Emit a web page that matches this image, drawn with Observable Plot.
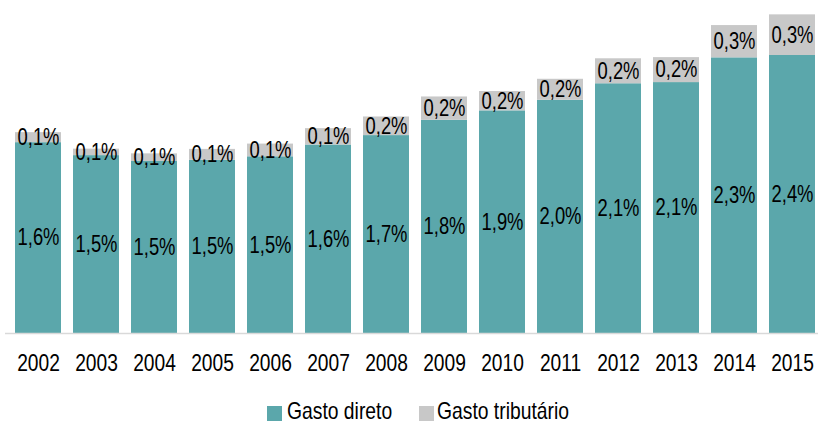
<!DOCTYPE html>
<html>
<head>
<meta charset="utf-8">
<script src="https://cdn.jsdelivr.net/npm/d3@7"></script>
<script src="https://cdn.jsdelivr.net/npm/@observablehq/plot@0.6"></script>
<style>
  body { margin: 0; background: #fff; }
  #wrap { width: 818px; height: 424px; font-family: "Liberation Sans", Arial, sans-serif; }
  #wrap svg { display: block; }
</style>
</head>
<body>
<div id="wrap"><div id="chart"></div><div id="legend"></div></div>
<script>
const years = ["2002","2003","2004","2005","2006","2007","2008","2009","2010","2011","2012","2013","2014","2015"];
const gastoDireto = [1.62, 1.51, 1.46, 1.47, 1.50, 1.60, 1.68, 1.81, 1.89, 1.98, 2.12, 2.13, 2.34, 2.36];
const gastoTributario = [0.085, 0.055, 0.065, 0.093, 0.108, 0.139, 0.158, 0.198, 0.164, 0.178, 0.212, 0.212, 0.274, 0.345];
const seriesNames = ["Gasto direto", "Gasto tributário"];
const seriesColors = ["#5ba7ab", "#c8c8c8"];

const fmt = v => (Math.round(v * 10) / 10).toFixed(1).replace(".", ",") + "%";

const bars = [];
const labels = [];
years.forEach((yr, i) => {
  bars.push({year: yr, series: seriesNames[0], value: gastoDireto[i]});
  bars.push({year: yr, series: seriesNames[1], value: gastoTributario[i]});
  labels.push({year: yr, y: gastoDireto[i] / 2, text: fmt(gastoDireto[i])});
  labels.push({year: yr, y: gastoDireto[i] + gastoTributario[i] / 2, text: fmt(gastoTributario[i])});
});

const chart = Plot.plot({
  width: 818,
  height: 390,
  marginLeft: 5,
  marginRight: 0,
  marginTop: 0,
  marginBottom: 57,
  style: {fontFamily: '"Liberation Sans", Arial, sans-serif', background: "#fff", color: "#000"},
  x: {domain: years, range: [5.14, 825], paddingInner: 0.2, paddingOuter: 0.1},
  y: {domain: [0, 2.8], range: [333, 333 - 2.8 * 117.8]},
  color: {domain: seriesNames, range: seriesColors},
  marks: [
    Plot.barY(bars, {x: "year", y: "value", fill: "series"}),
    Plot.ruleY([0], {stroke: "#d9d9d9", strokeWidth: 1.5}),
    Plot.text(labels, {x: "year", y: "y", text: "text", fontSize: 23, fill: "#000"}),
    Plot.axisX({tickSize: 0, tickPadding: 20, fontSize: 24, label: null}),
    Plot.axisY({ticks: [], label: null, tickSize: 0})
  ]
});

// condense all texts horizontally (reference uses a narrow face)
function condense(root, k) {
  root.querySelectorAll("text").forEach(t => {
    const x = t.getAttribute("x"), y = t.getAttribute("y");
    let tr = t.getAttribute("transform") || "";
    if ((x && !isNaN(+x)) || (y && !isNaN(+y))) {
      tr += ` translate(${+x || 0},${+y || 0})`;
      if (x && !isNaN(+x)) t.setAttribute("x", 0);
      if (y && !isNaN(+y)) t.setAttribute("y", 0);
    }
    t.setAttribute("transform", (tr + ` scale(${k},1)`).trim());
  });
}
condense(chart, 0.8);
document.getElementById("chart").appendChild(chart);

// legend below the chart
const legendPos = [[267, 287], [419, 437]];
const lsvg = d3.create("svg").attr("width", 818).attr("height", 34)
  .style("font-family", '"Liberation Sans", Arial, sans-serif');
seriesNames.forEach((n, i) => {
  lsvg.append("rect").attr("x", legendPos[i][0]).attr("y", 16).attr("width", 15).attr("height", 15).attr("fill", seriesColors[i]);
  lsvg.append("text").attr("x", legendPos[i][1]).attr("y", 29)
    .attr("font-size", 23).attr("fill", "#000").text(n);
});
condense(lsvg.node(), 0.84);
document.getElementById("legend").appendChild(lsvg.node());
</script>
</body>
</html>
